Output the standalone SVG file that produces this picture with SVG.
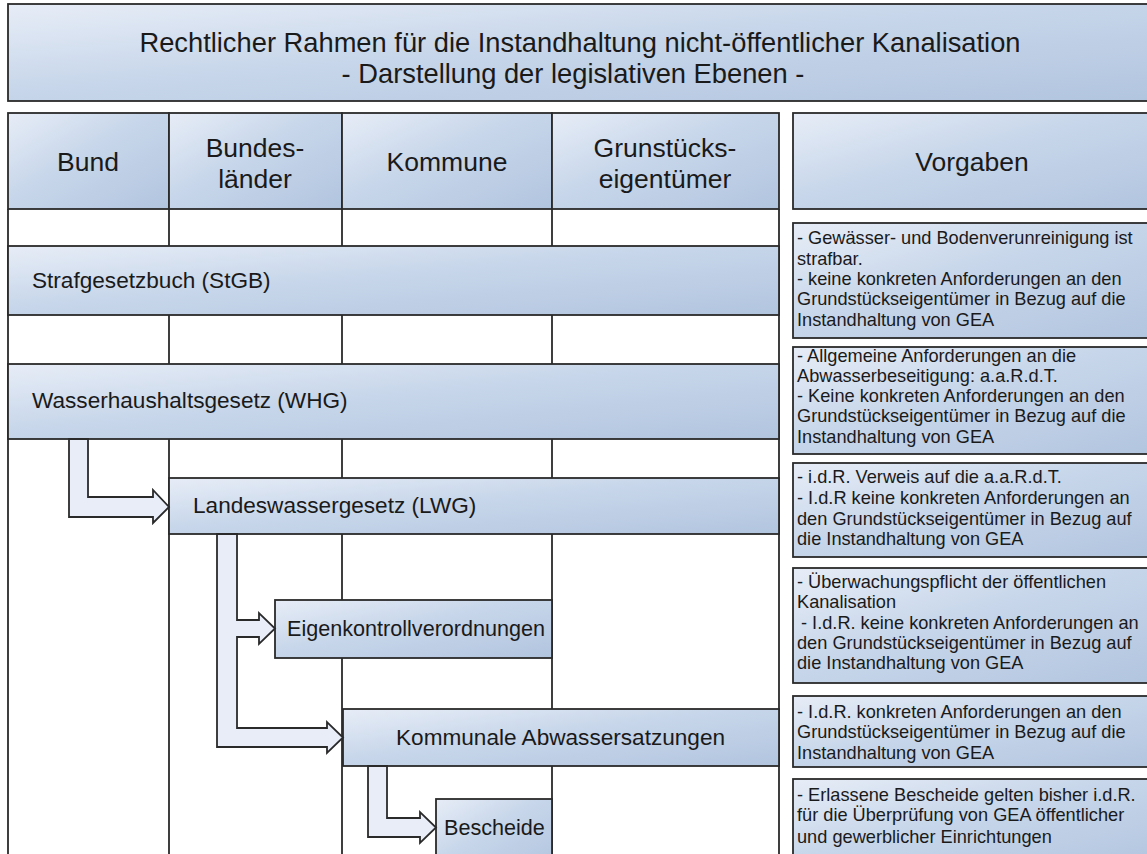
<svg xmlns="http://www.w3.org/2000/svg" width="1147" height="854" viewBox="0 0 1147 854">
<defs>
<linearGradient id="g" x1="0" y1="0" x2="1" y2="1">
<stop offset="0" stop-color="#e7edf7"/>
<stop offset="0.45" stop-color="#c7d6ea"/>
<stop offset="1" stop-color="#b2c5df"/>
</linearGradient>
<style>
.box{fill:url(#g);stroke:#2a2a2a;stroke-width:1.8}
.grid{stroke:#2a2a2a;stroke-width:1.8;fill:none}
.arr{fill:#e8edf8;stroke:#2a2a2a;stroke-width:1.8;stroke-linejoin:miter}
text{font-family:"Liberation Sans",Arial,sans-serif;fill:#1a1a1a}
.t{font-size:27.3px;text-anchor:middle}
.h{font-size:26.5px;text-anchor:middle}
.b{font-size:22.6px}
.v{font-size:18.2px}
</style>
</defs>
<rect width="1147" height="854" fill="#ffffff"/>

<g id="title">
<rect class="box" x="8" y="4" width="1145" height="97"/>
<text class="t" x="580" y="52">Rechtlicher Rahmen für die Instandhaltung nicht-öffentlicher Kanalisation</text>
<text class="t" x="573" y="83">- Darstellung der legislativen Ebenen -</text>
</g>

<g id="grid">
<line class="grid" x1="8" y1="209" x2="8" y2="860"/>
<line class="grid" x1="169" y1="209" x2="169" y2="860"/>
<line class="grid" x1="342" y1="209" x2="342" y2="860"/>
<line class="grid" x1="552" y1="209" x2="552" y2="860"/>
<line class="grid" x1="779" y1="209" x2="779" y2="860"/>
</g>

<g id="header-bund">
<rect class="box" x="8" y="113" width="161" height="96"/>
<text class="h" x="88" y="171">Bund</text>
</g>
<g id="header-bundeslaender">
<rect class="box" x="169" y="113" width="173" height="96"/>
<text class="h" x="255" y="157">Bundes-</text>
<text class="h" x="255" y="188">länder</text>
</g>
<g id="header-kommune">
<rect class="box" x="342" y="113" width="210" height="96"/>
<text class="h" x="447" y="171">Kommune</text>
</g>
<g id="header-grundstueck">
<rect class="box" x="552" y="113" width="227" height="96"/>
<text class="h" x="665" y="157">Grunstücks-</text>
<text class="h" x="665" y="188">eigentümer</text>
</g>
<g id="header-vorgaben">
<rect class="box" x="793" y="113" width="360" height="96"/>
<text class="h" x="972" y="171">Vorgaben</text>
</g>

<g id="stgb">
<rect class="box" x="8" y="246" width="771" height="69"/>
<text class="b" x="32" y="288">Strafgesetzbuch (StGB)</text>
</g>
<g id="whg">
<rect class="box" x="8" y="364" width="771" height="75"/>
<text class="b" x="32" y="408">Wasserhaushaltsgesetz (WHG)</text>
</g>
<g id="lwg">
<rect class="box" x="169" y="478" width="610" height="56"/>
<text class="b" x="193" y="513">Landeswassergesetz (LWG)</text>
</g>
<g id="eigenkontroll">
<rect class="box" x="275" y="600" width="277" height="58"/>
<text class="b" x="287" y="636" style="font-size:21.6px">Eigenkontrollverordnungen</text>
</g>
<g id="kommunal">
<rect class="box" x="343" y="709" width="436" height="57"/>
<text class="b" x="396" y="745">Kommunale Abwassersatzungen</text>
</g>
<g id="bescheide">
<rect class="box" x="436" y="799" width="116" height="70"/>
<text class="b" x="444" y="835" style="font-size:21.6px">Bescheide</text>
</g>

<g id="connectors">
<polygon class="arr" points="69,439 69,517 153,517 153,523 169,507 153,490 153,497 88,497 88,439"/>
<polygon class="arr" points="217,534 217,747 327,747 327,753 343,737.5 327,722 327,728 237,728 237,637 259,637 259,644 275,628.5 259,613 259,620 237,620 237,534"/>
<polygon class="arr" points="368,766 368,837 420,837 420,843 436,827.5 420,812 420,818 387,818 387,766"/>
</g>

<g id="v-stgb">
<rect class="box" x="793" y="223" width="360" height="115"/>
<text class="v" x="797" y="244">- Gewässer- und Bodenverunreinigung ist</text>
<text class="v" x="797" y="264.5">strafbar.</text>
<text class="v" x="797" y="285">- keine konkreten Anforderungen an den</text>
<text class="v" x="797" y="305">Grundstückseigentümer in Bezug auf die</text>
<text class="v" x="797" y="325.5">Instandhaltung von GEA</text>
</g>
<g id="v-whg">
<rect class="box" x="793" y="347" width="360" height="107"/>
<text class="v" x="797" y="362">- Allgemeine Anforderungen an die</text>
<text class="v" x="797" y="382">Abwasserbeseitigung: a.a.R.d.T.</text>
<text class="v" x="797" y="402">- Keine konkreten Anforderungen an den</text>
<text class="v" x="797" y="422">Grundstückseigentümer in Bezug auf die</text>
<text class="v" x="797" y="443">Instandhaltung von GEA</text>
</g>
<g id="v-lwg">
<rect class="box" x="793" y="463" width="360" height="94"/>
<text class="v" x="797" y="483">- i.d.R. Verweis auf die a.a.R.d.T.</text>
<text class="v" x="797" y="504">- I.d.R keine konkreten Anforderungen an</text>
<text class="v" x="797" y="525">den Grundstückseigentümer in Bezug auf</text>
<text class="v" x="797" y="545">die Instandhaltung von GEA</text>
</g>
<g id="v-eigenkontroll">
<rect class="box" x="793" y="568" width="360" height="115"/>
<text class="v" x="797" y="588">- Überwachungspflicht der öffentlichen</text>
<text class="v" x="797" y="608">Kanalisation</text>
<text class="v" x="801" y="629">- I.d.R. keine konkreten Anforderungen an</text>
<text class="v" x="797" y="649">den Grundstückseigentümer in Bezug auf</text>
<text class="v" x="797" y="669">die Instandhaltung von GEA</text>
</g>
<g id="v-kommunal">
<rect class="box" x="793" y="696" width="360" height="71"/>
<text class="v" x="797" y="718">- I.d.R. konkreten Anforderungen an den</text>
<text class="v" x="797" y="738">Grundstückseigentümer in Bezug auf die</text>
<text class="v" x="797" y="759">Instandhaltung von GEA</text>
</g>
<g id="v-bescheide">
<rect class="box" x="793" y="779" width="360" height="90"/>
<text class="v" x="797" y="801">- Erlassene Bescheide gelten bisher i.d.R.</text>
<text class="v" x="797" y="821">für die Überprüfung von GEA öffentlicher</text>
<text class="v" x="797" y="843">und gewerblicher Einrichtungen</text>
</g>
</svg>
